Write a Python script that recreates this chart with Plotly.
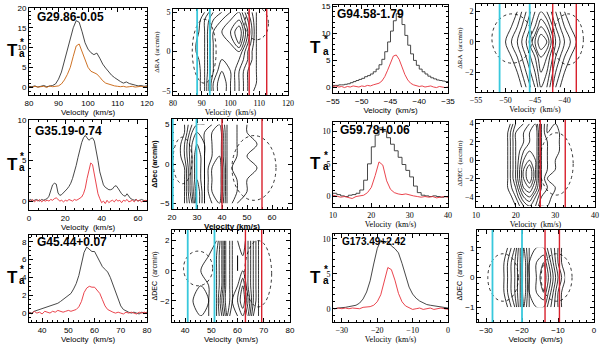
import plotly.graph_objects as go
from plotly.subplots import make_subplots

# ---------------- spectra: T_a* vs velocity ----------------
vel_29 = list(range(80, 121))
tb_29_black = [0.2, 0.1, 0.3, 0.0, 0.2, 0.4, 0.1, 0.3, 0.4, 0.8, 2.0, 3.8, 6.5, 9.5, 12.5, 15.0, 16.8, 16.4,
               14.0, 11.2, 9.6, 8.7, 8.2, 8.6, 7.3, 5.8, 4.8, 3.9, 3.0, 2.4, 1.8, 1.4, 1.0, 1.3, 0.9, 0.6,
               0.5, 0.3, 0.4, 0.2, 0.3]
tb_29_orange = [0.1, -0.1, 0.2, 0.0, 0.1, 0.2, -0.1, 0.3, 0.1, 0.2, 0.3, 0.8, 1.8, 3.2, 5.0, 7.8, 10.4, 10.9,
                9.0, 6.8, 5.0, 4.0, 3.6, 3.3, 2.5, 1.6, 1.0, 0.7, 0.4, 0.3, 0.2, 0.1, 0.2, 0.0, 0.1, 0.2,
                0.0, 0.1, 0.2, 0.0, 0.1]

vel_94 = [-55 + 0.5 * i for i in range(41)]
tb_94_black = [0.4, 0.4, 0.5, 0.5, 0.6, 0.7, 0.9, 1.1, 1.3, 1.5, 1.7, 2.0, 2.2, 2.5, 2.9, 3.4, 4.2, 5.2,
               6.6, 8.4, 10.4, 12.3, 13.6, 13.0, 11.6, 9.6, 7.8, 6.2, 5.0, 4.1, 3.4, 2.9, 2.5, 2.1, 1.8,
               1.6, 1.4, 1.3, 1.2, 1.1, 1.2]
tb_94_red = [0.2, 0.3, 0.1, 0.2, 0.0, 0.2, 0.1, 0.3, 0.2, 0.1, 0.3, 0.2, 0.4, 0.3, 0.5, 0.6, 0.8, 1.2,
             2.0, 3.2, 4.6, 5.8, 6.0, 5.2, 3.8, 2.4, 1.4, 0.8, 0.5, 0.4, 0.2, 0.3, 0.1, 0.2, 0.3, 0.1,
             0.0, 0.2, 0.1, 0.0, 0.1]

vel_35 = list(range(0, 66))
tb_35_black = [0.1, 0.2, 0.0, 0.1, 0.2, 0.1, 0.0, 0.2, 0.1, 0.2, 0.3, 0.6, 1.3, 2.0, 2.2, 2.1, 1.0, 0.7,
               0.8, 1.0, 1.2, 1.5, 1.8, 2.2, 2.8, 3.5, 4.4, 5.4, 6.4, 7.2, 7.8, 8.1, 7.8, 7.5, 7.7, 7.8,
               7.4, 6.4, 5.0, 3.6, 2.6, 2.0, 1.7, 1.5, 1.4, 1.4, 1.5, 1.8, 1.9, 1.6, 1.2, 0.9, 0.7, 0.6,
               0.9, 0.6, 0.3, 0.2, 0.1, 0.2, 0.0, 0.1, 0.2, 0.1, 0.0, 0.1]
tb_35_red = [0.1, 0.0, 0.2, -0.1, 0.1, 0.0, 0.2, -0.1, 0.1, 0.0, 0.1, 0.0, 0.2, 0.1, 0.3, 0.4, 0.2, 0.0,
             0.1, -0.1, 0.1, 0.0, 0.2, 0.1, 0.0, 0.2, 0.1, 0.2, 0.3, 0.5, 0.9, 1.6, 2.8, 3.9, 4.7, 4.5,
             3.4, 2.0, 0.9, 0.3, -0.2, 0.0, -0.3, 0.1, -0.2, 0.0, 0.1, -0.1, 0.2, 0.0, 0.1, -0.2, 0.1,
             0.0, 0.2, -0.1, 0.0, 0.1, -0.1, 0.2, 0.0, 0.1, -0.1, 0.0, 0.1, 0.0]

vel_59 = list(range(10, 41))
tb_59_black = [0.5, 0.3, 0.1, 0.0, 0.2, 0.3, 0.5, 1.0, 2.5, 5.0, 7.6, 9.4, 10.5, 10.0, 9.0, 8.0, 7.0, 6.0,
               4.9, 4.0, 3.0, 1.6, 0.6, 0.2, 0.1, 0.0, 0.1, 0.0, -0.1, 0.0, 0.1]
tb_59_red = [0.2, 0.0, -0.1, 0.0, -0.2, -0.3, 0.0, 0.1, 0.2, 0.6, 1.4, 3.2, 5.3, 4.8, 2.4, 1.1, 0.6, 0.4,
             0.3, 0.4, 0.2, 0.1, 0.0, -0.1, 0.0, -0.1, 0.0, -0.2, -0.1, 0.0, -0.1]

vel_45 = list(range(35, 81))
tb_45_black = [0.1, 0.0, 0.2, 0.3, 0.4, 0.5, 0.6, 0.7, 0.8, 0.9, 1.0, 1.1, 1.3, 1.5, 1.7, 1.9, 2.2, 2.7,
               3.3, 4.2, 5.5, 6.8, 7.4, 7.2, 6.9, 6.9, 6.3, 5.7, 5.2, 4.9, 4.6, 4.0, 3.2, 2.4, 1.5, 0.8,
               0.4, 0.2, 0.1, 0.0, 0.1, 0.0, -0.1, 0.1, 0.0, 0.1]
tb_45_red = [0.1, -0.1, 0.2, 0.0, 0.1, -0.1, 0.2, 0.1, 0.0, 0.2, 0.1, 0.3, 0.2, 0.1, 0.2, 0.3, 0.2, 0.3,
             0.4, 0.7, 1.3, 2.3, 2.8, 3.0, 2.9, 2.9, 2.6, 2.2, 1.5, 0.8, 0.4, 0.2, 0.1, 0.0, 0.1, 0.0,
             -0.1, 0.1, 0.0, 0.1, 0.0, -0.1, 0.1, 0.0, 0.1, 0.0]

vel_173 = list(range(-33, 1))
tb_173_black = [0.1, 0.0, 0.1, 0.1, 0.2, 0.3, 0.4, 0.5, 0.8, 1.4, 2.4, 4.0, 6.4, 8.6, 9.8, 9.4, 9.7, 9.0,
                8.6, 8.0, 6.5, 4.6, 3.1, 2.1, 1.5, 1.1, 0.8, 0.6, 0.5, 0.4, 0.3, 0.2, 0.2, 0.1]
tb_173_red = [0.1, 0.0, 0.1, 0.0, 0.1, 0.0, 0.1, 0.1, 0.0, 0.2, 0.2, 0.3, 0.5, 1.0, 2.0, 4.0, 5.9, 5.6,
              4.1, 2.2, 1.0, 0.4, 0.1, -0.1, 0.0, 0.1, -0.1, 0.0, 0.1, -0.1, 0.0, 0.1, 0.0, -0.1]

# ---------------- position-velocity maps ----------------
pv_29_vel = [84, 88, 91, 94, 97, 100, 103, 106, 109, 112, 116]
pv_29_pos = [-5, -4, -2.5, -1, 0, 1, 2.5, 4, 5]
pv_29_z = [[0, 0, 2, 6, 8, 6, 4, 2, 0.5, 0, 0],
           [0, 0, 2, 6, 8, 6, 4, 2, 1, 0, 0],
           [0, 0, 2, 5, 7, 6, 4, 2, 1, 0, 0],
           [0, 0.5, 2, 5, 6, 6, 5, 3, 1, 0, 0],
           [0, 1, 2, 5, 6, 6, 6, 3, 1, 0, 0],
           [0, 1, 2, 5, 6, 6, 8, 4, 1, 0, 0],
           [0, 0.5, 2, 5, 6, 7, 9, 5, 1, 0, 0],
           [0, 0, 2, 4, 5, 6, 7, 4, 1, 0, 0],
           [0, 0, 1, 3, 4, 5, 6, 3, 1, 0, 0]]

pv_94_vel = [-52, -50, -48, -46.5, -45, -44, -43, -41.5, -40, -38, -36]
pv_94_pos = [-3, -2, -1, 0, 1, 2]
pv_94_z = [[0, 0, 0, 2, 4, 6, 5, 2, 0, 0, 0],
           [0, 0, 1, 3, 5, 7, 6, 3, 1, 0, 0],
           [0, 0, 2, 4, 6, 8, 7, 4, 2, 0, 0],
           [0, 1, 3, 5, 8, 10, 9, 5, 3, 1, 0],
           [0, 0, 2, 4, 6, 8, 7, 4, 2, 0, 0],
           [0, 0, 1, 3, 5, 6, 5, 3, 1, 0, 0]]

pv_35_vel = [22, 25, 28, 30, 33, 36, 39, 42, 46, 50, 54, 58, 62]
pv_35_pos = [-5, -3.5, -2, -0.5, 1, 2.5, 4, 5]
pv_35_z = [[0, 1, 4, 8, 5, 6, 7, 3, 1, 1, 0, 0, 0],
           [0, 1, 5, 8, 5, 7, 8, 3, 2, 1, 1, 0, 0],
           [0, 1, 5, 7, 5, 7, 8, 3, 2, 1, 1, 0, 0],
           [0, 1, 5, 7, 5, 7, 8, 3, 1, 2, 1, 0, 0],
           [0, 2, 5, 7, 5, 6, 7, 3, 2, 1, 1, 0, 0],
           [0, 2, 5, 6, 5, 6, 7, 3, 2, 2, 1, 0, 0],
           [0, 1, 4, 5, 5, 6, 7, 3, 2, 1, 1, 0, 0],
           [0, 1, 3, 4, 4, 5, 6, 3, 2, 1, 1, 0, 0]]

pv_59_vel = [16, 18, 20, 22, 23.5, 25, 26.5, 28, 30, 32, 34]
pv_59_pos = [-5, -4, -3, -2, -1, 0, 1, 2, 3, 4]
pv_59_z = [[0, 0, 1, 3, 4, 3, 1, 1, 0, 0, 0],
           [0, 0, 2, 5, 6, 4, 2, 2, 0, 0, 0],
           [0, 1, 3, 7, 8, 6, 3, 2, 1, 0, 0],
           [0, 1, 4, 8, 10, 7, 3, 1, 1, 0, 0],
           [0, 1, 4, 8, 10, 7, 3, 2, 1, 0, 0],
           [0, 1, 4, 7, 8, 7, 3, 2, 1, 0, 0],
           [0, 1, 4, 6, 7, 7, 3, 2, 2, 0, 0],
           [0, 1, 4, 5, 6, 7, 3, 2, 2, 0, 0],
           [0, 1, 4, 5, 6, 7, 3, 1, 2, 0, 0],
           [0, 0, 3, 4, 5, 6, 3, 1, 1, 0, 0]]

pv_45_vel = [40, 43, 46, 49, 52, 54, 56, 58, 60, 62, 64, 66, 68, 71]
pv_45_pos = [-3, -2, -1, 0, 1, 2]
pv_45_z = [[0, 1, 1, 1, 2, 4, 7, 5, 6, 7, 5, 2, 1, 0],
           [0, 1, 2, 1, 2, 5, 8, 6, 7, 9, 6, 3, 1, 0],
           [0, 1, 1, 1, 2, 4, 8, 6, 6, 8, 5, 3, 1, 0],
           [0, 0, 1, 2, 2, 4, 8, 6, 5, 6, 5, 3, 1, 0],
           [0, 0, 0, 1, 2, 4, 8, 6, 5, 6, 5, 3, 1, 0],
           [0, 0, 0, 0, 1, 4, 8, 6, 6, 7, 5, 3, 1, 0]]

pv_173_vel = [-26, -24, -22, -20.5, -19.5, -18, -16, -14, -12, -10, -8]
pv_173_pos = [-1, -0.5, 0, 0.5, 1]
pv_173_z = [[0, 1, 3, 6, 8, 6, 6, 6, 4, 2, 0],
            [0, 2, 4, 6, 9, 6, 7, 8, 5, 2, 0],
            [0, 2, 4, 6, 9, 6, 7, 9, 6, 3, 1],
            [0, 2, 4, 6, 9, 6, 7, 8, 5, 2, 0],
            [0, 1, 3, 6, 8, 6, 6, 6, 4, 2, 0]]

# velocity markers (blue and red lobes) and dotted outflow ellipses (v0, v1, p0, p1)
blue_29, red_29 = [88.4, 92.8], [106.5, 112.6]
blue_94, red_94 = [-51.0, -45.9], [-42.0, -38.0]
blue_35, red_35 = [20.3, 29.8], [40.0, 56.0]
blue_59, red_59 = [], [26.2, 32.5]
blue_45, red_45 = [41.0, 51.2], [63.0, 69.2]
blue_173, red_173 = [-28.2, -20.0], [-13.6, -9.6]
ell_29 = [[86.7, 95.0, -4.0, 4.1], [105.0, 113.2, 1.5, 5.6]]
ell_94 = [[-52.3, -45.5, -1.4, 1.85], [-42.0, -36.8, -1.5, 1.85]]
ell_35 = [[20.4, 28.0, -2.5, 3.4], [44.0, 61.6, -4.6, 3.6]]
ell_59 = [[26.0, 34.5, -3.8, 3.0]]
ell_45 = [[39.4, 50.5, -1.0, 1.3], [62.7, 73.0, -2.4, 2.0]]
ell_173 = [[-29.5, -21.0, -0.8, 0.8], [-14.7, -6.1, -0.8, 0.8]]

SANS = "Liberation Sans, Arial, sans-serif"
SERIF = "Liberation Serif, Times New Roman, serif"
W, H = 600, 345

fig = make_subplots(rows=3, cols=4)

# panel boxes in pixels: left, right, top, bottom
boxes = {
    (1, 1): (29, 147, 8, 95), (1, 2): (173, 288, 9, 95), (1, 3): (333, 448, 5, 93), (1, 4): (476, 594, 4, 92),
    (2, 1): (29, 147, 120, 210), (2, 2): (172, 292, 119, 209), (2, 3): (333, 448, 122, 207), (2, 4): (476, 595, 120, 207),
    (3, 1): (29, 147, 235, 322), (3, 2): (172, 290, 230, 322), (3, 3): (333, 448, 234, 322), (3, 4): (477, 594, 230, 322),
}


def style_axes(row, col, xr, yr, dx, dy, font, ytitle=None, bold=False):
    l, r, t, b = boxes[(row, col)]
    fam = font
    tf = dict(family=fam, size=8, color="black")
    common = dict(showline=True, linecolor="black", linewidth=1, mirror="ticks", ticks="inside",
                  ticklen=4, tickwidth=0.8, tickcolor="black", showgrid=False, zeroline=False,
                  automargin=False, tickfont=tf,
                  minor=dict(ticks="inside", ticklen=2, tickcolor="black"))
    xtitle = "<b>Velocity (km/s)</b>" if bold else "Velocity  (km/s)"
    fig.update_xaxes(range=xr, dtick=dx, domain=[l / W, r / W],
                     title=dict(text=xtitle, font=dict(family=fam, size=8, color="black"), standoff=0),
                     row=row, col=col, **common)
    yt = None
    if ytitle:
        yt = dict(text=("<b>%s</b>" % ytitle) if bold else ytitle,
                  font=dict(family=fam, size=7, color="black"), standoff=1)
    fig.update_yaxes(range=yr, dtick=dy, domain=[1 - b / H, 1 - t / H], title=yt,
                     row=row, col=col, **common)


def spectrum(row, col, v, black, colored, color, label, label_xy, label_size, shape="linear"):
    fig.add_trace(go.Scatter(x=v, y=black, mode="lines", line=dict(color="#333333", width=0.9, shape=shape),
                             showlegend=False), row=row, col=col)
    fig.add_trace(go.Scatter(x=v, y=colored, mode="lines", line=dict(color=color, width=0.9),
                             showlegend=False), row=row, col=col)
    fig.add_annotation(x=label_xy[0] / W, y=1 - label_xy[1] / H, xref="paper", yref="paper",
                       text="<b>%s</b>" % label, showarrow=False, xanchor="left", yanchor="middle",
                       font=dict(family=SANS, size=label_size, color="black"))
    l, r, t, b = boxes[(row, col)]
    ty = (t + b) / 2 - 1
    tx = l - 17
    # T with a superscript star stacked over a subscript "a"
    fig.add_annotation(x=tx / W, y=1 - ty / H, xref="paper", yref="paper", text="<b>T</b>",
                       xanchor="center", yanchor="middle", showarrow=False,
                       font=dict(family=SANS, size=17, color="black"))
    fig.add_annotation(x=(tx + 10) / W, y=1 - (ty - 8) / H, xref="paper", yref="paper", text="<b>*</b>",
                       xanchor="center", yanchor="middle", showarrow=False,
                       font=dict(family=SANS, size=10, color="black"))
    fig.add_annotation(x=(tx + 10) / W, y=1 - (ty + 3) / H, xref="paper", yref="paper", text="<b>a</b>",
                       xanchor="center", yanchor="middle", showarrow=False,
                       font=dict(family=SANS, size=10, color="black"))


def pv_map(row, col, v, pos, z, blue, red, ellipses):
    fig.add_trace(go.Contour(x=v, y=pos, z=z, showscale=False, hoverinfo="skip",
                             contours=dict(coloring="lines", start=1, end=10, size=1),
                             colorscale=[[0, "black"], [1, "black"]],
                             line=dict(width=0.8, smoothing=0.9)), row=row, col=col)
    for e in ellipses:
        fig.add_shape(type="circle", x0=e[0], x1=e[1], y0=e[2], y1=e[3],
                      line=dict(color="black", width=0.8, dash="dot"), row=row, col=col)
    for x in blue:
        fig.add_vline(x=x, line=dict(color="#38c8dc", width=1.8), row=row, col=col)
    for x in red:
        fig.add_vline(x=x, line=dict(color="#d8202c", width=1.4), row=row, col=col)


# row 1
spectrum(1, 1, vel_29, tb_29_black, tb_29_orange, "#c8620c", "G29.86-0.05", (35, 17), 12)
style_axes(1, 1, [80, 120], [-2, 20], 10, 5, SANS)
pv_map(1, 2, pv_29_vel, pv_29_pos, pv_29_z, blue_29, red_29, ell_29)
style_axes(1, 2, [80, 120], [-5.5, 5.4], 10, 5, SERIF, "ΔRA  (arcmin)")
spectrum(1, 3, vel_94, tb_94_black, tb_94_red, "#e8303a", "G94.58-1.79", (335, 14), 12, shape="hv")
style_axes(1, 3, [-55, -35], [-1, 15.2], 5, 5, SANS)
pv_map(1, 4, pv_94_vel, pv_94_pos, pv_94_z, blue_94, red_94, ell_94)
style_axes(1, 4, [-55, -35], [-3.3, 2.5], 5, 2, SERIF, "ΔRA  (arcmin)")

# row 2
spectrum(2, 1, vel_35, tb_35_black, tb_35_red, "#e8303a", "G35.19-0.74", (33, 131), 12)
style_axes(2, 1, [0, 65], [-1.1, 10], 20, 5, SANS)
pv_map(2, 2, pv_35_vel, pv_35_pos, pv_35_z, blue_35, red_35, ell_35)
style_axes(2, 2, [20, 68], [-5.7, 5.7], 10, 5, SANS, "ΔDec (arcmin)", bold=True)
spectrum(2, 3, vel_59, tb_59_black, tb_59_red, "#e8303a", "G59.78+0.06", (338, 130), 12, shape="hv")
style_axes(2, 3, [10, 40], [-1.6, 11.4], 10, 5, SERIF)
pv_map(2, 4, pv_59_vel, pv_59_pos, pv_59_z, blue_59, red_59, ell_59)
style_axes(2, 4, [10, 40], [-5.1, 4.4], 10, 2, SERIF, "ΔDEC  (arcmin)")

# row 3
spectrum(3, 1, vel_45, tb_45_black, tb_45_red, "#e8303a", "G45.44+0.07", (35, 242), 12)
style_axes(3, 1, [35, 80], [-1, 8.75], 10, 2, SANS)
pv_map(3, 2, pv_45_vel, pv_45_pos, pv_45_z, blue_45, red_45, ell_45)
style_axes(3, 2, [35, 80], [-3.4, 2.7], 10, 2, SANS, "ΔDEC  (arcmin)")
spectrum(3, 3, vel_173, tb_173_black, tb_173_red, "#e8303a", "G173.49+2.42", (340, 241), 10)
style_axes(3, 3, [-32.5, 0], [-1.9, 10.7], 10, 5, SERIF)
pv_map(3, 4, pv_173_vel, pv_173_pos, pv_173_z, blue_173, red_173, ell_173)
style_axes(3, 4, [-32.5, 0], [-1.5, 1.6], 10, 1, SANS, "ΔDEC  (arcmin)")

fig.update_layout(width=W, height=H, margin=dict(l=0, r=0, t=0, b=0),
                  paper_bgcolor="white", plot_bgcolor="white", showlegend=False)

# the page body has a default 8px margin; remove it so the figure sits at the window corner
fig.write_html("out.html", config={"displayModeBar": False},
               post_script="document.body.style.margin='0';")
